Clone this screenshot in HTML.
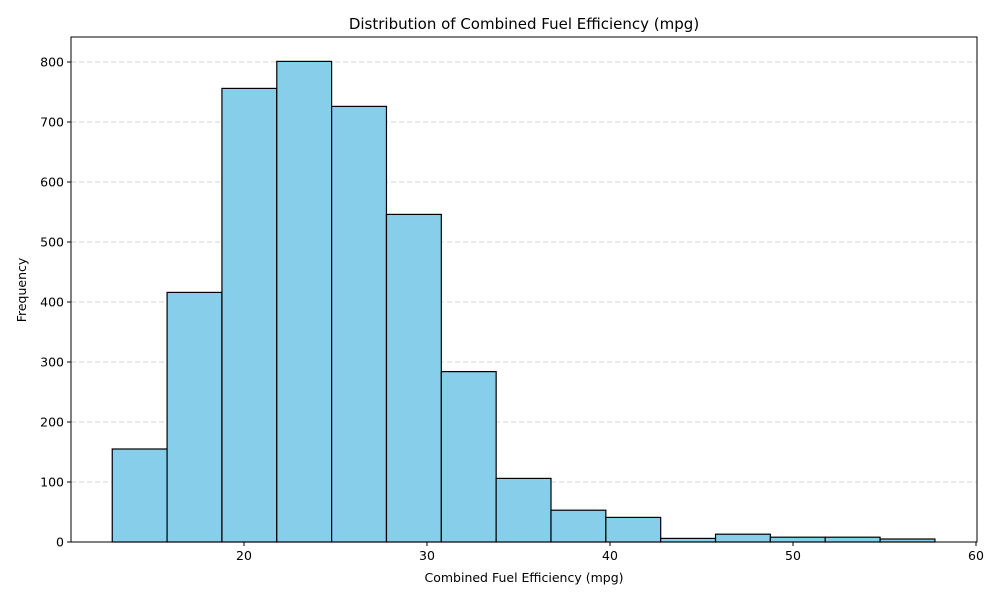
<!DOCTYPE html>
<html><head><meta charset="utf-8"><style>
body{margin:0;background:#fff;}
svg{display:block;font-family:"DejaVu Sans","Liberation Sans",sans-serif;}
</style></head><body>
<svg id="chart" width="1000" height="600"></svg>
<script>
const binStart = 12.8;
const binWidth = 2.997;
const counts = [155, 416, 756, 801, 726, 546, 284, 106, 53, 41, 6, 13, 8, 8, 5];
const xTicks = [20, 30, 40, 50, 60];
const yTicks = [0, 100, 200, 300, 400, 500, 600, 700, 800];

const NS = "http://www.w3.org/2000/svg";
const svg = document.getElementById("chart");
const L = 71, R = 977, T = 37, B = 542;
function xs(v){ return 244 + (v - 20) * 18.3; }
function ys(v){ return 542 - v * 0.6; }
function mk(tag, attrs, parent){
  const e = document.createElementNS(NS, tag);
  for (const k in attrs) e.setAttribute(k, attrs[k]);
  (parent || svg).appendChild(e);
  return e;
}
// grid
yTicks.forEach(v => {
  if (v === 0) return;
  const g = mk("line", {x1:L, x2:R, y1:ys(v), y2:ys(v), stroke:"#c8c8c8", "stroke-dasharray":"5,3", "stroke-width":0.8});
  
  
});
// bars
counts.forEach((c, i) => {
  const x0 = xs(binStart + i * binWidth), x1 = xs(binStart + (i + 1) * binWidth);
  const r = mk("rect", {x:x0, y:ys(c), width:x1 - x0, height:ys(0) - ys(c), fill:"#87ceeb", stroke:"#000", "stroke-width":1.2});
  
  
});
// frame
const fr = mk("rect", {x:L, y:T, width:R - L, height:B - T, fill:"none", stroke:"#000", "stroke-width":1});


// x ticks
xTicks.forEach(v => {
  mk("line", {x1:xs(v), x2:xs(v), y1:B, y2:B + 4, stroke:"#000"});
  const t = mk("text", {x:xs(v), y:B + 18, "text-anchor":"middle", "font-size":12.5});
  t.textContent = v;
  
  
});
// y ticks
yTicks.forEach(v => {
  mk("line", {x1:L - 4, x2:L, y1:ys(v), y2:ys(v), stroke:"#000"});
  const t = mk("text", {x:L - 7, y:ys(v) + 4.5, "text-anchor":"end", "font-size":12.5});
  t.textContent = v;
  
  
});
const title = mk("text", {x:524, y:29, "text-anchor":"middle", "font-size":15});
title.textContent = "Distribution of Combined Fuel Efficiency (mpg)";


const xl = mk("text", {x:524, y:582, "text-anchor":"middle", "font-size":12.5});
xl.textContent = "Combined Fuel Efficiency (mpg)";


const yl = mk("text", {x:0, y:0, "text-anchor":"middle", "font-size":12.5, transform:"translate(26,290) rotate(-90)"});
yl.textContent = "Frequency";


</script>
</body></html>
